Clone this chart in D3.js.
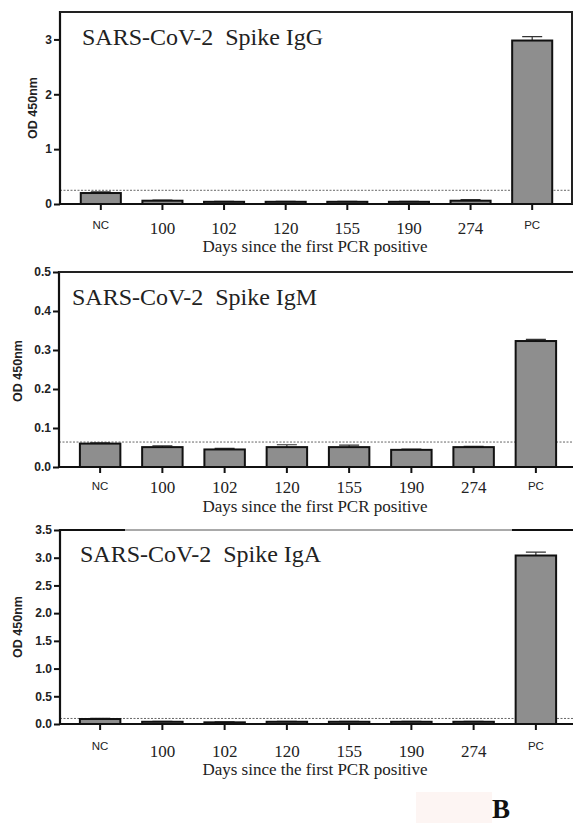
<!DOCTYPE html>
<html>
<head>
<meta charset="utf-8">
<script src="https://cdn.jsdelivr.net/npm/d3@7"></script>
<style>
  body { margin: 0; background: #fff; }
  .tick-y { font-family: "Liberation Sans", Arial, sans-serif; font-weight: bold; font-size: 12px; }
  .lab-ctrl { font-family: "Liberation Sans", Arial, sans-serif; font-size: 11.5px; }
  .lab-day { font-family: "Liberation Serif", "Times New Roman", serif; font-size: 17px; }
  .ptitle { white-space: pre; }
</style>
</head>
<body>
<div class="figure"></div>
<script>
// data
const categories = ["NC", "100", "102", "120", "155", "190", "274", "PC"];

const iggValues = [0.20, 0.06, 0.04, 0.04, 0.04, 0.04, 0.06, 2.98];
const iggErrors = [0.02, 0.01, 0.01, 0.01, 0.01, 0.01, 0.02, 0.07];

const igmValues = [0.060, 0.051, 0.045, 0.051, 0.051, 0.044, 0.051, 0.323];
const igmErrors = [0.002, 0.003, 0.003, 0.006, 0.005, 0.002, 0.002, 0.004];

const igaValues = [0.09, 0.04, 0.03, 0.04, 0.04, 0.04, 0.04, 3.04];
const igaErrors = [0.01, 0.01, 0.01, 0.01, 0.01, 0.01, 0.01, 0.06];

const cutoffs = [0.25, 0.064, 0.10];
const titles = ["SARS-CoV-2  Spike IgG", "SARS-CoV-2  Spike IgM", "SARS-CoV-2  Spike IgA"];
const yMax = [3.5, 0.5, 3.5];
const yTicks = [[0, 1, 2, 3], [0, 0.1, 0.2, 0.3, 0.4, 0.5], [0, 0.5, 1, 1.5, 2, 2.5, 3, 3.5]];
const yFormats = ["d", ".1f", ".1f"];
const xTitle = "Days since the first PCR positive";

const width = 573, height = 823;

const svg = d3.select(".figure").append("svg")
    .attr("width", width)
    .attr("height", height);

// layout of each panel (pixels)
const panels = [
  { values: iggValues, errors: iggErrors, top: 12, bottom: 204, xr: [70, 563], ax: 60,
    titleX: 82, titleY: 45, labY: 108, labX: 33, ctrlY: 229, numY: 234, daysY: 252, box: "full" },
  { values: igmValues, errors: igmErrors, top: 272, bottom: 467, xr: [69, 567], ax: 59,
    titleX: 72, titleY: 305, labY: 371, labX: 18, ctrlY: 490, numY: 493, daysY: 512, box: "top" },
  { values: igaValues, errors: igaErrors, top: 530, bottom: 724, xr: [69, 567], ax: 60,
    titleX: 80, titleY: 562, labY: 627, labX: 18, ctrlY: 750, numY: 757, daysY: 775, box: "split" }
];

panels.forEach((p, i) => {
  const x = d3.scaleBand().domain(categories).range(p.xr).paddingInner(0.35).paddingOuter(0.175);
  const y = d3.scaleLinear().domain([0, yMax[i]]).range([p.bottom, p.top]);
  const g = svg.append("g");

  // cutoff line
  g.append("line")
      .attr("x1", p.ax).attr("x2", width)
      .attr("y1", y(cutoffs[i])).attr("y2", y(cutoffs[i]))
      .attr("stroke", "#666").attr("stroke-width", 1).attr("stroke-dasharray", "2,1.5");

  const rows = categories.map((c, k) => ({ c, v: p.values[k], e: p.errors[k] }));

  // error bars
  g.selectAll(".err").data(rows).enter().append("path")
      .attr("d", d => {
        const cx = x(d.c) + x.bandwidth() / 2;
        return `M${cx},${y(d.v)}V${y(d.v + d.e)}M${cx - 10},${y(d.v + d.e)}H${cx + 10}`;
      })
      .attr("fill", "none").attr("stroke", "#333").attr("stroke-width", 1.2);

  // bars
  g.selectAll(".bar").data(rows).enter().append("rect")
      .attr("x", d => x(d.c))
      .attr("width", x.bandwidth())
      .attr("y", d => y(d.v))
      .attr("height", d => y(0) - y(d.v))
      .attr("fill", "#8e8e8e").attr("stroke", "#111").attr("stroke-width", 2);

  // y axis
  const yAxis = d3.axisLeft(y).tickValues(yTicks[i]).tickFormat(d3.format(yFormats[i]))
      .tickSize(6).tickPadding(2);
  const ya = g.append("g").attr("transform", `translate(${p.ax},0)`).call(yAxis);
  ya.select(".domain").remove();
  ya.selectAll("line").attr("stroke", "#111").attr("stroke-width", 2);
  ya.selectAll("text").attr("class", "tick-y").attr("fill", "#222").attr("font-size", null)
      .attr("font-family", null);
  g.append("line").attr("x1", p.ax).attr("x2", p.ax).attr("y1", p.top - 1).attr("y2", p.bottom + 1)
      .attr("stroke", "#111").attr("stroke-width", 2.2);

  // x axis
  const xAxis = d3.axisBottom(x).tickSize(6).tickFormat("");
  const xa = g.append("g").attr("transform", `translate(0,${p.bottom})`).call(xAxis);
  xa.select(".domain").remove();
  xa.selectAll("line").attr("stroke", "#111").attr("stroke-width", 2);
  g.append("line").attr("x1", p.ax).attr("x2", width).attr("y1", p.bottom).attr("y2", p.bottom)
      .attr("stroke", "#111").attr("stroke-width", 2.2);

  g.selectAll(".xl").data(categories).enter().append("text")
      .attr("class", d => (d === "NC" || d === "PC") ? "lab-ctrl" : "lab-day")
      .attr("x", d => x(d) + x.bandwidth() / 2)
      .attr("y", d => (d === "NC" || d === "PC") ? p.ctrlY : p.numY)
      .attr("text-anchor", "middle").attr("fill", "#222")
      .text(d => d);

  g.append("text").attr("class", "lab-day")
      .attr("x", 315).attr("y", p.daysY).attr("text-anchor", "middle").attr("fill", "#222")
      .text(xTitle);

  // y title
  g.append("text")
      .attr("transform", `translate(${p.labX + 4},${p.labY}) rotate(-90)`)
      .attr("text-anchor", "middle")
      .attr("font-family", "Liberation Sans, Arial, sans-serif")
      .attr("font-weight", "bold").attr("font-size", 12.5).attr("fill", "#222")
      .text("OD 450nm");

  // panel title
  g.append("text").attr("class", "ptitle")
      .attr("x", p.titleX).attr("y", p.titleY)
      .attr("font-family", "Liberation Serif, Times New Roman, serif")
      .attr("font-size", 24).attr("fill", "#222")
      .text(titles[i]);

  // frame
  if (p.box === "full") {
    g.append("path").attr("d", `M${p.ax},${p.top}H572V${p.bottom}`)
        .attr("fill", "none").attr("stroke", "#222").attr("stroke-width", 2);
  } else if (p.box === "top") {
    g.append("line").attr("x1", p.ax).attr("x2", width).attr("y1", p.top).attr("y2", p.top)
        .attr("stroke", "#222").attr("stroke-width", 2);
  } else {
    g.append("line").attr("x1", p.ax).attr("x2", width).attr("y1", p.top).attr("y2", p.top)
        .attr("stroke", "#555").attr("stroke-width", 1);
    g.append("line").attr("x1", p.ax).attr("x2", 125).attr("y1", p.top).attr("y2", p.top)
        .attr("stroke", "#111").attr("stroke-width", 2.2);
    g.append("line").attr("x1", 512).attr("x2", width).attr("y1", p.top).attr("y2", p.top)
        .attr("stroke", "#111").attr("stroke-width", 2.2);
  }
});

// panel letter
svg.append("rect").attr("x", 416).attr("y", 792).attr("width", 76).attr("height", 31)
    .attr("fill", "#fdf5f3");
svg.append("text").attr("x", 492).attr("y", 818)
    .attr("font-family", "Liberation Serif, Times New Roman, serif")
    .attr("font-weight", "bold").attr("font-size", 27).attr("fill", "#111")
    .text("B");
</script>
</body>
</html>
